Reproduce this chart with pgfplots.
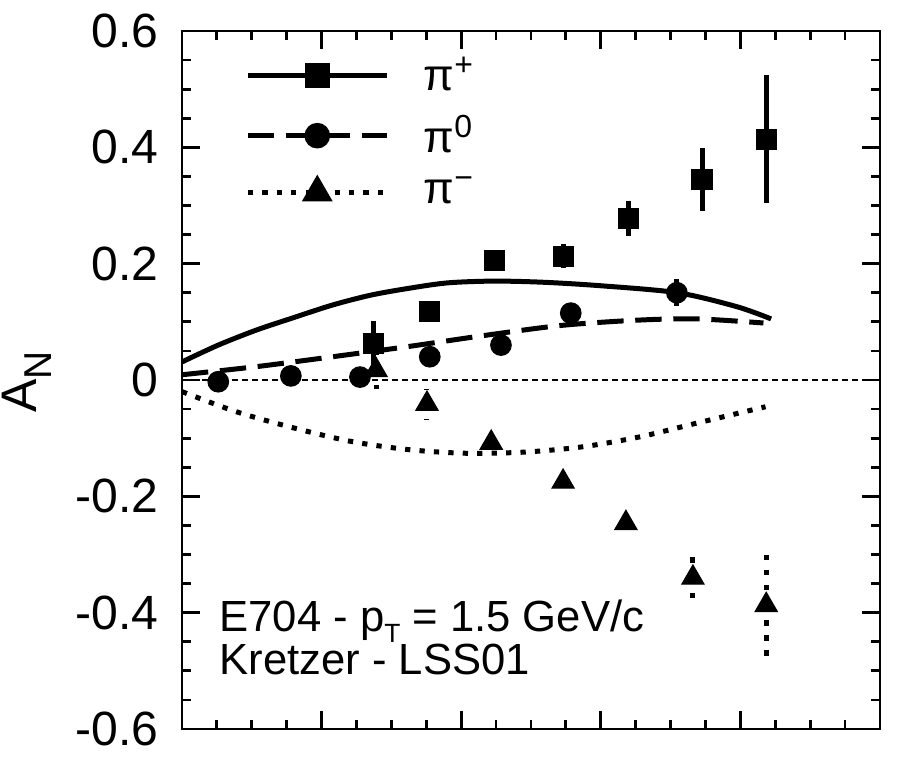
\documentclass[border=0pt]{standalone}
\usepackage{pgfplots}
\pgfplotsset{compat=1.18}
\usepackage{fontspec}
\setmainfont{Liberation Sans}
\begin{document}
\begin{tikzpicture}
\begin{axis}[
  scale only axis, width=251.28pt, height=251.28pt,
  xmin=0, xmax=1, ymin=-0.6, ymax=0.6,
  xtick={0,0.2,0.4,0.6,0.8,1}, xticklabels={}, minor x tick num=3,
  ytick={-0.6,-0.4,-0.2,0,0.2,0.4,0.6}, minor y tick num=3,
  major tick length=6.5pt, minor tick length=3.3pt,
  axis line style={line width=1pt},
  every tick/.style={line width=1pt, black},
  /pgf/number format/assume math mode=true,
  yticklabel style={font=\fontsize{17.3pt}{18pt}\selectfont, xshift=-5pt},
  clip=false,
  legend style={at={(rel axis cs:0.09,0.972)}, anchor=north west, draw=none, fill=none,
    inner sep=0pt, font=\fontsize{16pt}{18pt}\selectfont, row sep=3.3pt,
    legend cell align=left,
    /tikz/every odd column/.append style={column sep=10.4pt}},
  legend image code/.code={
    \draw[mark repeat=2, mark phase=2, #1] plot coordinates {(0pt,0pt) (25pt,0pt) (50pt,0pt)};
  },
]
% legend images
\addlegendimage{black, line width=1.8pt, mark=square*, mark size=3.6pt, mark options={solid}}
\addlegendentry{π\raisebox{5.5pt}{\fontsize{11.5pt}{11.5pt}\selectfont +}}
\addlegendimage{black, line width=1.8pt, dash pattern=on 9.5pt off 4.2pt, mark=*, mark size=3.7pt, mark options={solid}}
\addlegendentry{π\raisebox{5.5pt}{\fontsize{11.5pt}{11.5pt}\selectfont 0}}
\addlegendimage{black, line width=1.8pt, dash pattern=on 1.9pt off 3.3pt, mark=triangle*, mark size=4.6pt, mark options={solid}}
\addlegendentry{π\raisebox{5.5pt}{\fontsize{11.5pt}{11.5pt}\selectfont −}}

% zero line
\addplot[forget plot, black, line width=0.4pt, dash pattern=on 2.2pt off 1.4pt] coordinates {(0,0) (1,0)};

% theory curves
\addplot[forget plot, black, line width=1.8pt, smooth] coordinates {
(0,0.031) (0.052,0.060) (0.107,0.086) (0.162,0.108) (0.216,0.129) (0.271,0.146)
(0.327,0.158) (0.381,0.167) (0.447,0.170) (0.518,0.168) (0.600,0.162)
(0.710,0.150) (0.795,0.126) (0.844,0.105)};
\addplot[forget plot, black, line width=1.8pt, smooth, dash pattern=on 9.5pt off 4.2pt] coordinates {
(0,0.009) (0.107,0.023) (0.216,0.040) (0.327,0.058) (0.436,0.077) (0.545,0.094)
(0.655,0.103) (0.738,0.105) (0.833,0.098)};
\addplot[forget plot, black, line width=1.8pt, smooth, dash pattern=on 1.9pt off 3.3pt] coordinates {
(0,-0.020) (0.079,-0.055) (0.162,-0.083) (0.244,-0.106) (0.327,-0.120) (0.408,-0.126)
(0.490,-0.124) (0.573,-0.115) (0.655,-0.098) (0.738,-0.074) (0.836,-0.046)};

% pi+ data
\addplot[forget plot, black, only marks, mark=square*, mark size=3.6pt,
  error bars/.cd, y dir=both, y explicit, error mark=none,
  error bar style={line width=1.8pt, solid}] coordinates {
(0.274,0.062) +- (0,0.040)
(0.355,0.117) +- (0,0.008)
(0.448,0.205) +- (0,0.008)
(0.546,0.213) +- (0,0.021)
(0.640,0.278) +- (0,0.030)
(0.745,0.345) +- (0,0.054)
(0.838,0.414) +- (0,0.110)};

% pi0 data
\addplot[forget plot, black, only marks, mark=*, mark size=3.7pt,
  error bars/.cd, y dir=both, y explicit, error mark=none,
  error bar style={line width=1.8pt, solid}] coordinates {
(0.052,-0.003) +- (0,0.005)
(0.156,0.007) +- (0,0.005)
(0.255,0.005) +- (0,0.005)
(0.355,0.040) +- (0,0.005)
(0.457,0.060) +- (0,0.005)
(0.557,0.115) +- (0,0.005)
(0.709,0.150) +- (0,0.023)};

% pi- data
\addplot[forget plot, black, only marks, mark=triangle*, mark size=4.6pt,
  error bars/.cd, y dir=both, y explicit, error mark=none,
  error bar style={line width=1.8pt, dash pattern=on 2pt off 3.4pt}] coordinates {
(0.278,0.017) +- (0,0.032)
(0.351,-0.041) +- (0,0.026)
(0.443,-0.108) +- (0,0.010)
(0.546,-0.175) +- (0,0.019)
(0.636,-0.246) +- (0,0.025)
(0.732,-0.340) +- (0,0.040)
(0.837,-0.387) +- (0,0.088)};

% annotations
\node[anchor=base west, inner sep=0pt, font=\fontsize{15.7pt}{18pt}\selectfont] at (rel axis cs:0.053,0.140)
  {E704 - p\raisebox{-3.9pt}{\fontsize{9.5pt}{9.5pt}\selectfont T} = 1.5 GeV/c};
\node[anchor=base west, inner sep=0pt, font=\fontsize{15.7pt}{18pt}\selectfont] at (rel axis cs:0.053,0.078)
  {Kretzer - LSS01};
\node[rotate=90, inner sep=0pt, font=\fontsize{18pt}{20pt}\selectfont] at (rel axis cs:-0.222,0.497)
  {A\raisebox{-5.4pt}{\fontsize{14pt}{14pt}\selectfont N}};

\coordinate (bbl) at (rel axis cs:-0.2607,-0.0501);
\coordinate (btr) at (rel axis cs:1.0258,1.0444);
\end{axis}
\path (bbl) rectangle (btr);
\end{tikzpicture}
\end{document}
